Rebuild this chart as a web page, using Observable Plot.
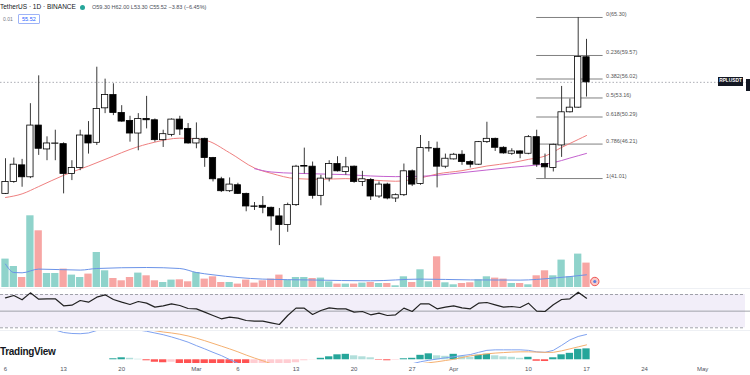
<!DOCTYPE html>
<html><head><meta charset="utf-8">
<script src="https://cdn.jsdelivr.net/npm/d3@7"></script>
<script src="https://cdn.jsdelivr.net/npm/@observablehq/plot@0.6"></script>
<style>
html,body{margin:0;padding:0;background:#fff;}
#chart{position:relative;width:750px;height:375px;overflow:hidden;font-family:"Liberation Sans","DejaVu Sans",sans-serif;background:#fff;}
#chart svg{position:absolute;left:0;overflow:visible;}
.hd{position:absolute;white-space:nowrap;color:#131722;}
</style></head>
<body><div id="chart"></div>
<script>
// ---------------- DATA ----------------
const dates = ["2023-02-06","2023-02-07","2023-02-08","2023-02-09","2023-02-10","2023-02-11","2023-02-12","2023-02-13","2023-02-14","2023-02-15","2023-02-16","2023-02-17","2023-02-18","2023-02-19","2023-02-20","2023-02-21","2023-02-22","2023-02-23","2023-02-24","2023-02-25","2023-02-26","2023-02-27","2023-02-28",
"2023-03-01","2023-03-02","2023-03-03","2023-03-04","2023-03-05","2023-03-06","2023-03-07","2023-03-08","2023-03-09","2023-03-10","2023-03-11","2023-03-12","2023-03-13","2023-03-14","2023-03-15","2023-03-16","2023-03-17","2023-03-18","2023-03-19","2023-03-20","2023-03-21","2023-03-22","2023-03-23","2023-03-24","2023-03-25","2023-03-26","2023-03-27","2023-03-28","2023-03-29","2023-03-30","2023-03-31",
"2023-04-01","2023-04-02","2023-04-03","2023-04-04","2023-04-05","2023-04-06","2023-04-07","2023-04-08","2023-04-09","2023-04-10","2023-04-11","2023-04-12","2023-04-13","2023-04-14","2023-04-15","2023-04-16","2023-04-17"];
const open  = [38.7,40.5,43.0,41.2,49.0,45.4,46.25,46.2,41.7,42.6,47.5,46.4,51.6,53.6,50.9,49.7,47.8,50.0,49.8,46.8,47.6,49.9,48.5,46.3,47.0,44.1,40.9,39.1,40.0,38.7,36.8,36.9,36.6,35.3,34.0,37.0,42.8,42.8,38.4,41.0,43.2,42.0,42.8,40.5,40.8,38.3,40.1,38.0,38.5,42.1,40.2,45.55,45.5,42.8,43.9,44.6,43.5,43.1,46.5,47.0,45.65,44.75,45.1,44.75,47.25,43.2,42.6,46.0,51.0,51.7,59.3];
const high  = [44.0,44.1,43.9,52.3,56.5,47.3,48.3,46.4,43.7,48.3,49.6,57.8,56.0,55.3,52.0,50.4,50.8,53.4,50.0,48.3,50.0,50.4,49.3,49.4,47.1,44.2,41.2,41.1,40.3,38.8,37.4,38.3,36.7,36.5,37.3,43.0,45.6,43.5,41.5,43.7,44.3,44.2,42.9,42.1,41.0,40.5,40.3,38.7,43.2,42.3,47.5,46.6,46.5,44.7,44.8,45.2,43.7,46.6,49.5,47.1,45.8,45.5,45.2,47.5,48.3,44.7,46.2,54.9,53.0,65.3,62.0];
const low   = [38.6,40.3,39.7,41.0,44.5,43.7,43.7,38.7,40.7,42.2,44.7,46.0,50.8,50.5,49.5,46.5,45.2,48.5,46.5,45.7,47.3,47.5,46.2,45.5,42.7,40.5,38.9,38.9,38.6,36.0,36.2,35.7,33.1,30.9,32.9,36.8,41.7,37.9,36.9,40.5,42.0,41.5,40.3,39.8,37.7,38.0,37.8,37.4,38.3,39.8,40.0,45.0,39.6,42.5,43.8,43.0,42.6,43.0,46.3,45.1,44.7,44.5,44.0,44.6,42.7,41.01,42.0,44.2,50.9,51.6,53.3];
const close = [40.5,43.1,41.2,49.0,45.5,46.3,46.3,41.7,42.6,47.5,46.3,51.5,53.6,50.9,49.6,47.8,50.0,49.8,46.8,47.7,49.9,48.4,46.3,47.0,44.1,40.9,39.1,40.1,38.7,36.8,36.75,36.6,35.3,34.0,37.0,42.8,42.9,38.4,41.0,43.2,42.1,42.7,40.5,40.9,38.3,40.1,38.0,38.5,42.1,40.1,45.6,45.6,42.8,44.0,44.6,43.5,43.1,46.5,47.0,45.65,44.8,45.1,44.75,47.25,43.1,42.7,46.1,51.0,51.7,59.35,55.52];
// volume, thousands of RPL
const volume = [284,210,100,717,567,140,140,184,124,100,134,350,167,90,67,100,144,117,67,50,74,77,57,150,84,107,50,50,34,74,44,67,84,124,74,100,100,90,94,57,34,34,34,44,50,40,40,17,107,50,177,57,307,47,27,40,47,77,107,94,84,40,40,27,117,167,117,274,107,334,244];
// moving averages (date index, value)
const ma20Idx = [0,2,4,7,10,13,15,18,21,24,27,30,32,35,38,41,44,47,50,52,55,58,61,63,65,67,69,70];
const ma20Val = [38.15,38.7,39.8,41.5,42.9,44.4,45.4,46.5,47.1,46.8,44.9,42.6,41.8,41.0,40.9,41.0,40.8,40.6,41.1,41.7,42.2,42.9,43.4,43.9,44.4,45.7,46.9,47.5];
const ma50Idx = [30,32,35,38,41,44,47,50,52,55,58,61,64,66,68,70];
const ma50Val = [42.5,42.0,41.8,41.7,41.6,41.4,41.3,41.35,41.5,41.9,42.3,42.7,43.05,43.4,44.1,44.8];
const volMaIdx = [0,1,2,4,9,11,17,21,23,25,31,37,44,50,56,62,66,70];
const volMaVal = [234,150,147,184,174,190,200,190,150,127,84,75,67,84,76,74,94,127];
// RSI(14)
const rsi = [66.0,68.8,63.6,72.0,64.4,64.8,64.8,56.4,57.2,62.8,60.8,66.8,69.6,64.0,60.8,58.0,61.6,59.6,54.8,56.4,58.8,56.8,53.2,52.8,48.8,44.8,40.8,42.8,41.6,38.8,38.0,38.0,36.0,34.0,44.8,53.6,53.6,46.0,50.8,54.0,52.8,52.8,48.8,49.6,45.6,47.6,44.8,45.6,53.6,49.6,58.8,58.8,52.8,54.8,56.4,54.0,52.8,59.6,60.4,57.6,54.8,55.6,54.4,59.6,50.0,49.6,57.6,64.0,64.8,72.8,65.6];
// MACD
const macd = [6.5,6.6,6.5,6.6,6.3,6.1,6.0,5.5,5.3,5.25,5.4,5.9,6.1,6.2,6.3,6.2,6.0,5.75,5.4,5.05,4.6,4.1,3.55,2.85,2.2,1.5,0.85,0.05,-0.7,-1.4,-2.0,-2.4,-2.8,-3.1,-2.9,-2.6,-2.4,-2.3,-2.1,-1.8,-1.5,-1.3,-1.3,-1.3,-1.4,-1.5,-1.6,-1.5,-1.1,-0.8,-0.4,-0.1,0.15,0.4,0.6,0.85,1.05,1.5,1.9,2.0,2.0,2.0,2.0,1.9,1.6,1.5,1.9,2.9,4.0,4.7,5.1];
const signal = [7.0,7.0,7.0,7.0,7.0,7.0,7.0,7.0,7.0,7.0,7.0,7.0,7.0,6.9,6.8,6.6,6.4,6.2,5.85,5.6,5.4,5.15,4.8,4.35,3.85,3.3,2.75,2.2,1.6,0.95,0.35,-0.2,-0.8,-1.3,-1.7,-2.0,-2.2,-2.3,-2.35,-2.3,-2.2,-2.1,-2.0,-1.9,-1.8,-1.7,-1.6,-1.5,-1.3,-1.1,-0.8,-0.6,-0.4,-0.15,0.1,0.45,0.8,1.0,1.2,1.35,1.45,1.55,1.6,1.6,1.55,1.5,1.5,1.8,2.2,2.6,3.0];
const hist = [0,0,0,0,0,0,0,0,0,0,0,0,0,0.2,0.4,0.3,0.1,-0.2,-0.5,-0.6,-0.5,-1.1,-1.3,-1.5,-1.7,-1.8,-1.9,-2.1,-2.3,-2.4,-2.35,-2.2,-2.0,-1.8,-1.2,-0.6,-0.2,-0.05,0.3,0.6,1.0,1.1,0.8,0.6,0.4,-0.1,-0.2,-0.1,0.2,0.3,0.9,1.2,0.8,0.7,1.1,0.7,0.5,0.9,1.1,0.8,0.6,0.5,0.3,0.5,-0.3,-0.35,0.4,1.0,1.3,2.1,2.2];
// Fibonacci retracement
const fibRatios = ["0","0.236","0.382","0.5","0.618","0.786","1"];
const fibPrices = [65.30,59.57,56.02,53.16,50.29,46.21,41.01];
const fibFrom = "2023-04-11", fibTo = "2023-04-19";
// x-axis ticks
const tickDates = ["2023-02-06","2023-02-13","2023-02-20","2023-03-01","2023-03-06","2023-03-13","2023-03-20","2023-03-27","2023-04-01","2023-04-10","2023-04-17","2023-04-24","2023-05-01"];
const tickLabels = ["6","13","20","Mar","6","13","20","27","Apr","10","17","24","May"];
const symbol = "RPLUSDT";
const headerTitle = "TetherUS · 1D · BINANCE";
const headerOHLC = "O59.30 H62.00 L53.30 C55.52 −3.83 (−6.45%)";

// ---------------- LAYOUT ----------------
const DAY = 864e5;
const t0 = +new Date(dates[0]);
const pxPerDay = 8.3, firstPx = 5;
const xAt = px => new Date(t0 + (px - firstPx) / pxPerDay * DAY);
const xDomain = [xAt(0), xAt(750)];
const xOpt = {type: "utc", domain: xDomain, axis: null};
const half = 0.38 * DAY, vhalf = 0.44 * DAY;

const rows = dates.map((d, i) => ({date: new Date(d), o: open[i], h: high[i], l: low[i], c: close[i], v: volume[i], up: close[i] >= open[i], rsi: rsi[i], macd: macd[i], sig: signal[i], hist: hist[i]}));
rows.forEach((r, i) => {
  const p = i > 0 ? hist[i - 1] : 0;
  r.hc = r.hist >= 0 ? (r.hist >= p ? "#26a69a" : "#b2dfdb") : (r.hist < p ? "#ff5252" : "#ffcdd2");
});
const ma20 = ma20Idx.map((k, j) => ({date: new Date(dates[k]), v: ma20Val[j]}));
const ma50 = ma50Idx.map((k, j) => ({date: new Date(dates[k]), v: ma50Val[j]}));
const volMa = volMaIdx.map((k, j) => ({date: new Date(dates[k]), v: volMaVal[j]}));

const chart = document.getElementById("chart");
function place(svg, top) { svg.style.top = top + "px"; chart.appendChild(svg); return svg; }

// price pane
const pricePlot = Plot.plot({
  width: 750, height: 287, margin: 0,
  x: xOpt, y: {domain: [24.58, 67.86], axis: null}, color: {type: "identity"},
  marks: [
    Plot.ruleY([close[close.length - 1]], {stroke: "#9598a1", strokeWidth: 0.8, strokeDasharray: "1.5,2"}),
    Plot.ruleY(fibPrices, {x1: new Date(fibFrom), x2: new Date(fibTo), stroke: "#808080", strokeWidth: 1}),
    Plot.text(fibPrices, {x: new Date(fibTo), y: d => d, text: (d, i) => `${fibRatios[i]}(${d.toFixed(2)})`, dx: 3, dy: -1, textAnchor: "start", lineAnchor: "bottom", fontSize: 5.5, fill: "#555", fontFamily: "Liberation Sans"}),
    Plot.line(ma20, {x: "date", y: "v", stroke: "#ef8080", strokeWidth: 1, curve: "monotone-x"}),
    Plot.line(ma50, {x: "date", y: "v", stroke: "#c462cf", strokeWidth: 1, curve: "monotone-x"}),
    Plot.ruleX(rows, {x: "date", y1: "l", y2: "h", stroke: "#3a3a3a", strokeWidth: 1}),
    Plot.rect(rows, {x1: d => new Date(+d.date - half), x2: d => new Date(+d.date + half), y1: "o", y2: "c", fill: d => d.up ? "#ffffff" : "#000000", stroke: "#000", strokeWidth: 0.8})
  ]
});
place(pricePlot, 0);

// volume pane (overlay at bottom of price pane)
const volPlot = Plot.plot({
  width: 750, height: 87, margin: 0,
  x: xOpt, y: {domain: [0, 870], axis: null}, color: {type: "identity"},
  marks: [
    Plot.rect(rows, {x1: d => new Date(+d.date - vhalf), x2: d => new Date(+d.date + vhalf), y1: 0, y2: "v", fill: d => d.up ? "#8fd3cb" : "#f7a6a4"}),
    Plot.line(volMa, {x: "date", y: "v", stroke: "#6b93e8", strokeWidth: 1, curve: "monotone-x"}),
    Plot.dot([rows[rows.length - 1]], {x: d => new Date(+d.date + DAY), y: 60, r: 4.2, fill: "#f9c9c8", stroke: "#ef5350", strokeWidth: 1}),
    Plot.dot([rows[rows.length - 1]], {x: d => new Date(+d.date + DAY), y: 60, r: 1.6, fill: "#5b7fe0"})
  ]
});
place(volPlot, 200);

// RSI pane
const rsiPlot = Plot.plot({
  width: 750, height: 42, margin: 0,
  x: xOpt, y: {domain: [26.76, 77.21], axis: null},
  marks: [
    Plot.rect([0], {x1: xAt(0), x2: xAt(745), y1: 30, y2: 70, fill: "#7e57c2", fillOpacity: 0.1}),
    Plot.ruleY([70, 30], {x1: xAt(0), x2: xAt(745), stroke: "#8a8d96", strokeWidth: 0.8, strokeDasharray: "3,2"}),
    Plot.ruleY([50], {stroke: "#8a8d96", strokeWidth: 0.8}),
    Plot.line(rows, {x: "date", y: "rsi", stroke: "#222", strokeWidth: 1.2})
  ]
});
place(rsiPlot, 288);

// MACD pane
const macdPlot = Plot.plot({
  width: 750, height: 33, margin: 0,
  x: xOpt, y: {domain: [-0.75, 5.9], axis: null}, color: {type: "identity"},
  marks: [
    Plot.rect(rows, {x1: d => new Date(+d.date - vhalf), x2: d => new Date(+d.date + vhalf), y1: 0, y2: "hist", fill: "hc", clip: true}),
    Plot.line(rows, {x: "date", y: "macd", stroke: "#7fa2f0", strokeWidth: 1, clip: true}),
    Plot.line(rows, {x: "date", y: "sig", stroke: "#f5b070", strokeWidth: 1, clip: true})
  ]
});
place(macdPlot, 330);

// time axis
const axisPlot = Plot.plot({
  width: 750, height: 12, margin: 0,
  x: xOpt,
  marks: [
    Plot.text(tickDates, {x: d => new Date(d), text: (d, i) => tickLabels[i], frameAnchor: "middle", fontSize: 6, fill: "#50535e", fontFamily: "Liberation Sans"})
  ]
});
place(axisPlot, 363);

// pane separators
[288, 329.5].forEach(y => {
  const s = document.createElement("div");
  s.style.cssText = `position:absolute;left:0;top:${y}px;width:750px;height:1px;background:#eef0f4;`;
  chart.appendChild(s);
});

// header / legends
function hd(html, css) { const d = document.createElement("div"); d.className = "hd"; d.innerHTML = html; d.style.cssText += css; chart.appendChild(d); return d; }
hd(headerTitle, "left:0px;top:3px;font-size:6.5px;");
hd("", "left:80px;top:5px;width:5px;height:5px;border-radius:50%;background:#26a69a;");
hd(headerOHLC, "left:92px;top:3.5px;font-size:5.5px;color:#4a4e59;");
hd("0.01", "left:3px;top:16px;font-size:5px;color:#787b86;");
hd("55.52", "left:18px;top:14px;font-size:5.5px;color:#2962ff;border:0.8px solid #9db3f7;border-radius:1px;padding:1px 3px;");
hd("TradingView", "left:0px;top:346px;font-size:10px;font-weight:bold;color:#131722;letter-spacing:-0.3px;");

// last-price label, placed with the price scale
const yLast = pricePlot.scale("y").apply(close[close.length - 1]);
hd(symbol, `left:718px;top:${yLast - 4.5}px;width:25px;height:8.5px;background:#131722;color:#fff;font-size:4.8px;font-weight:bold;line-height:8.5px;text-align:center;`);
hd("", `left:745.5px;top:${yLast - 3}px;width:5px;height:12px;background:#131722;`);
</script>
</body></html>
